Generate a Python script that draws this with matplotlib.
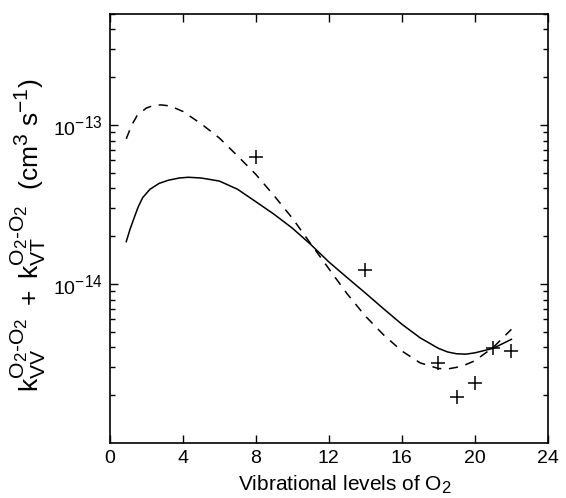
import matplotlib
matplotlib.use("Agg")
import matplotlib.pyplot as plt
import matplotlib._mathtext as mtext
from matplotlib.ticker import FixedLocator, LogLocator, NullFormatter

plt.rcParams['font.family'] = ['Liberation Sans', 'DejaVu Sans']
plt.rcParams['mathtext.fontset'] = 'custom'
plt.rcParams['mathtext.rm'] = 'Liberation Sans'
plt.rcParams['mathtext.it'] = 'Liberation Sans:italic'
plt.rcParams['mathtext.default'] = 'regular'
# sub/superscripts in the original are bigger than matplotlib's default
mtext.SHRINK_FACTOR = 0.8

# solid curve
solid_x = [0.9, 1.1, 1.3, 1.55, 1.8, 2.2, 2.7, 3.2, 3.8, 4.3, 5, 6, 7, 8, 9,
           10, 11, 12, 13, 14, 15, 16, 17, 18, 18.5, 19, 19.5, 20, 21, 22]
solid_y = [1.85e-14, 2.2e-14, 2.55e-14, 3.05e-14, 3.5e-14, 3.95e-14, 4.3e-14,
           4.5e-14, 4.65e-14, 4.7e-14, 4.65e-14, 4.45e-14, 3.95e-14, 3.3e-14,
           2.75e-14, 2.25e-14, 1.78e-14, 1.38e-14, 1.1e-14, 8.8e-15, 7.0e-15,
           5.6e-15, 4.6e-15, 3.95e-15, 3.75e-15, 3.65e-15, 3.63e-15, 3.7e-15,
           3.95e-15, 4.5e-15]

# dashed curve
dash_x = [0.9, 1.2, 1.5, 2, 2.4, 2.8, 3.3, 4, 5, 6, 7, 8, 9, 10, 11, 12, 13,
          14, 15, 16, 17, 18, 18.5, 19, 19.5, 20, 21, 22]
dash_y = [8.2e-14, 1.0e-13, 1.15e-13, 1.28e-13, 1.33e-13, 1.34e-13, 1.32e-13,
          1.22e-13, 1.02e-13, 8.3e-14, 6.4e-14, 4.9e-14, 3.6e-14, 2.6e-14,
          1.8e-14, 1.25e-14, 8.7e-15, 6.3e-15, 4.8e-15, 3.8e-15, 3.2e-15,
          2.95e-15, 2.93e-15, 3.0e-15, 3.12e-15, 3.3e-15, 4.0e-15, 5.2e-15]

# measured points
pts_x = [8, 14, 18, 19, 20, 21, 22]
pts_y = [6.3e-14, 1.22e-14, 3.2e-15, 1.95e-15, 2.4e-15, 3.95e-15, 3.8e-15]

xticks = [0, 4, 8, 12, 16, 20, 24]
yticks = [1e-14, 1e-13]

fig = plt.figure(figsize=(5.66, 4.98), dpi=100)
ax = fig.add_axes([0.194, 0.110, 0.774, 0.862])

ax.plot(solid_x, solid_y, color='black', lw=1.1)
ax.plot(dash_x, dash_y, color='black', lw=1.1, dashes=(6, 5))
ax.plot(pts_x, pts_y, '+', color='black', ms=10, mew=1.1)

ax.set_yscale('log')
ax.set_xlim(0, 24)
ax.set_ylim(1e-15, 5e-13)
ax.xaxis.set_major_locator(FixedLocator(xticks))
ax.yaxis.set_major_locator(FixedLocator(yticks))
ax.yaxis.set_minor_locator(LogLocator(base=10, subs=range(2, 10)))
ax.yaxis.set_minor_formatter(NullFormatter())

ax.tick_params(which='both', direction='in', top=True, right=True,
               labelsize=14, width=1)
ax.tick_params(which='major', length=6, pad=5)
ax.tick_params(which='minor', length=3.5)
for s in ax.spines.values():
    s.set_linewidth(1.2)

ax.set_xlabel('Vibrational levels of O$_2$', fontsize=15)
ax.xaxis.set_label_coords(0.537, -0.072)
ax.set_ylabel(r'$k_{VV}^{O_2‐O_2}\ +\ k_{VT}^{O_2‐O_2}$  (cm$^3$ s$^{-1}$)',
              fontsize=19)
ax.yaxis.set_label_coords(-0.142, 0.485)

fig.savefig('out.png', dpi=100)
